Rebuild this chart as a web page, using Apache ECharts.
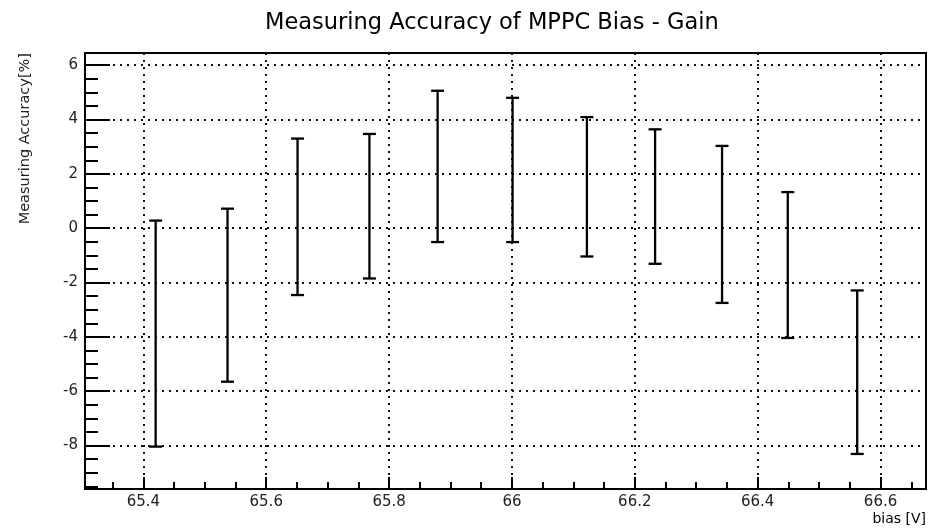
<!DOCTYPE html>
<html>
<head>
<meta charset="utf-8">
<script src="https://cdn.jsdelivr.net/npm/echarts@6/dist/echarts.min.js"></script>
<style>
  html, body { margin: 0; padding: 0; background: #fff; }
  #chart { width: 938px; height: 532px; }
</style>
</head>
<body>
<div id="chart"></div>
<script>
// bias voltage of each measurement point and the error bar ends (%)
const biasV = [65.42, 65.537, 65.651, 65.768, 65.879, 66.001, 66.122, 66.233, 66.342, 66.449, 66.562];
const upper = [0.28, 0.72, 3.30, 3.47, 5.06, 4.80, 4.09, 3.64, 3.03, 1.33, -2.29];
const lower = [-8.04, -5.65, -2.46, -1.85, -0.51, -0.51, -1.04, -1.31, -2.75, -4.04, -8.31];

// axis ticks, ROOT style: majors labelled, minors short
const xMajorTicks = [65.4, 65.6, 65.8, 66, 66.2, 66.4, 66.6];
const xMinorTicks = [65.35, 65.45, 65.5, 65.55, 65.65, 65.7, 65.75, 65.85, 65.9, 65.95,
  66.05, 66.1, 66.15, 66.25, 66.3, 66.35, 66.45, 66.5, 66.55, 66.65];
const yMajorTicks = [-8, -6, -4, -2, 0, 2, 4, 6];
const yMinorTicks = [-9.5, -9, -8.5, -7.5, -7, -6.5, -5.5, -5, -4.5, -3.5, -3, -2.5,
  -1.5, -1, -0.5, 0.5, 1, 1.5, 2.5, 3, 3.5, 4.5, 5, 5.5];

const xRange = [65.305, 66.674];
const yRange = [-9.6, 6.45];

const chart = echarts.init(document.getElementById('chart'));
const font = 'DejaVu Sans';

const dotted = { color: '#111', width: 2, type: [2, 5] };

const option = {
  animation: false,
  textStyle: { fontFamily: font },
  title: {
    text: 'Measuring Accuracy of MPPC Bias - Gain',
    left: 260,
    top: 7,
    textStyle: { fontFamily: font, fontSize: 22.5, fontWeight: 'normal', color: '#000' }
  },
  grid: {
    left: 85, right: 12, top: 53, bottom: 43,
    show: true,
    borderColor: '#000',
    borderWidth: 2,
    outerBoundsMode: 'none'
  },
  xAxis: [
    {
      type: 'value',
      position: 'bottom',
      min: xRange[0],
      max: xRange[1],
      minInterval: 0.2,
      maxInterval: 0.2,
      name: 'bias [V]',
      nameLocation: 'end',
      nameGap: 0,
      nameMoveOverlap: false,
      nameTextStyle: {
        fontFamily: font, fontSize: 14, color: '#000',
        align: 'right', verticalAlign: 'top', padding: [23, 0, 0, 0]
      },
      axisLine: { onZero: false, lineStyle: { color: '#000', width: 2 } },
      axisTick: { inside: true, length: 12, customValues: xMajorTicks, lineStyle: { color: '#000', width: 2 } },
      axisLabel: {
        customValues: xMajorTicks,
        margin: 6, fontSize: 15, color: '#222',
        formatter: v => String(+v.toFixed(1))
      },
      splitLine: { show: true, lineStyle: dotted }
    },
    {
      type: 'value',
      position: 'bottom',
      min: xRange[0],
      max: xRange[1],
      axisLine: { show: false, onZero: false },
      axisTick: { inside: true, length: 7, customValues: xMinorTicks, lineStyle: { color: '#000', width: 2 } },
      axisLabel: { show: false },
      splitLine: { show: false }
    }
  ],
  yAxis: [
    {
      type: 'value',
      position: 'left',
      min: yRange[0],
      max: yRange[1],
      minInterval: 2,
      maxInterval: 2,
      name: 'Measuring Accuracy[%]',
      nameLocation: 'end',
      nameRotate: 90,
      nameGap: 0,
      nameMoveOverlap: false,
      nameTextStyle: {
        fontFamily: font, fontSize: 14.5, color: '#222',
        align: 'right', verticalAlign: 'bottom', padding: [0, 0, 52, 0]
      },
      axisLine: { onZero: false, lineStyle: { color: '#000', width: 2 } },
      axisTick: { inside: true, length: 25, customValues: yMajorTicks, lineStyle: { color: '#000', width: 2 } },
      axisLabel: { customValues: yMajorTicks, margin: 7, fontSize: 15, color: '#222' },
      splitLine: { show: true, lineStyle: dotted }
    },
    {
      type: 'value',
      position: 'left',
      min: yRange[0],
      max: yRange[1],
      axisLine: { show: false, onZero: false },
      axisTick: { inside: true, length: 13, customValues: yMinorTicks, lineStyle: { color: '#000', width: 2 } },
      axisLabel: { show: false },
      splitLine: { show: false }
    }
  ],
  series: [
    {
      type: 'custom',
      xAxisIndex: 0,
      yAxisIndex: 0,
      encode: { x: 0, y: [1, 2] },
      data: biasV.map((x, i) => [x, lower[i], upper[i]]),
      renderItem: function (params, api) {
        const x = api.value(0);
        const top = api.coord([x, api.value(2)]);
        const bot = api.coord([x, api.value(1)]);
        const w = 6.5; // half width of the caps
        const st = { stroke: '#000', lineWidth: 2.3 };
        return {
          type: 'group',
          children: [
            { type: 'line', shape: { x1: top[0], y1: top[1], x2: bot[0], y2: bot[1] }, style: st },
            { type: 'line', shape: { x1: top[0] - w, y1: top[1], x2: top[0] + w, y2: top[1] }, style: st },
            { type: 'line', shape: { x1: bot[0] - w, y1: bot[1], x2: bot[0] + w, y2: bot[1] }, style: st }
          ]
        };
      }
    }
  ]
};

chart.setOption(option);
window.addEventListener('resize', () => chart.resize());
</script>
</body>
</html>
